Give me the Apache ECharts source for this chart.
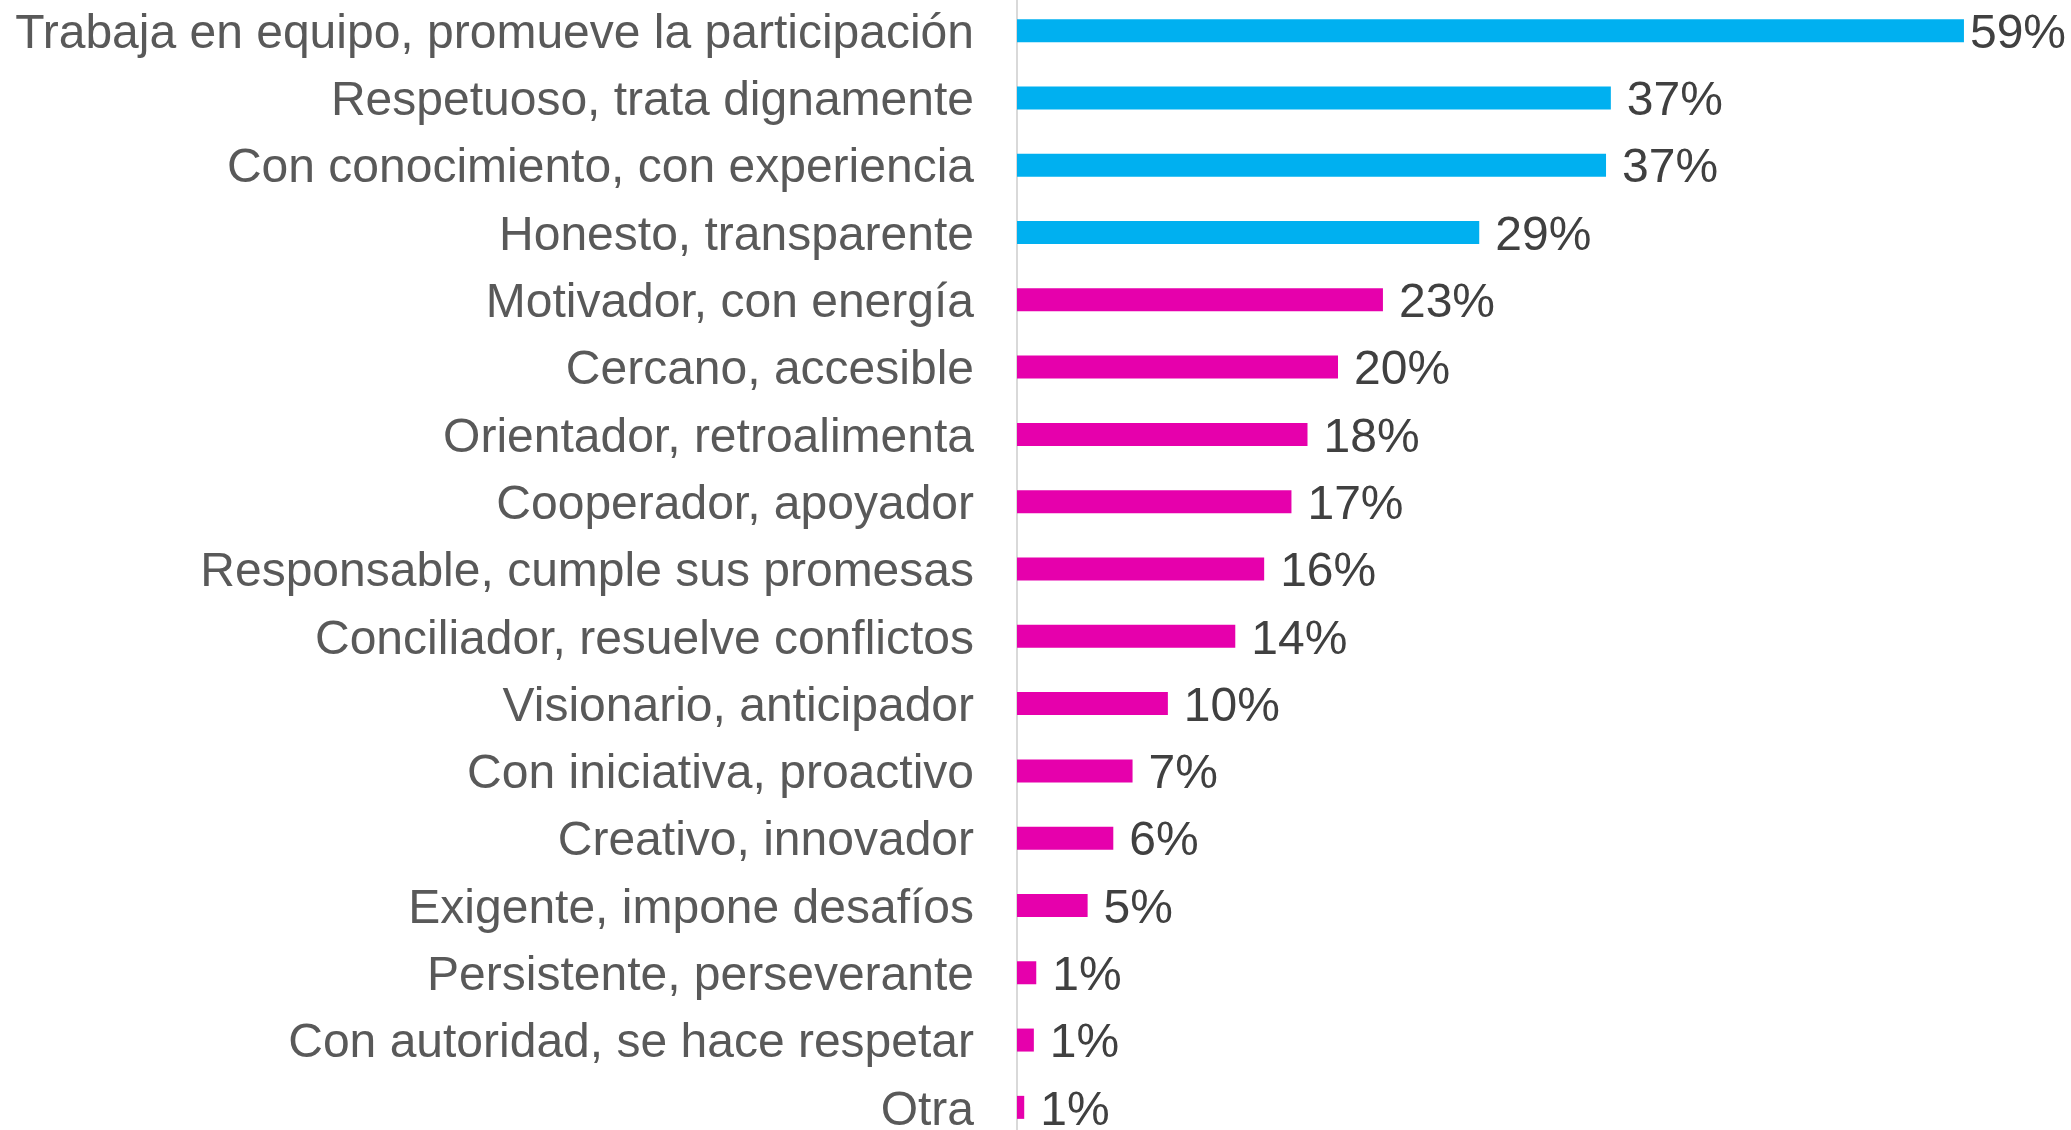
<!DOCTYPE html>
<html>
<head>
<meta charset="utf-8">
<script src="https://cdn.jsdelivr.net/npm/echarts@6/dist/echarts.min.js"></script>
<style>
html,body{margin:0;padding:0;background:#fff;}
#chart{width:2071px;height:1130px;}
</style>
</head>
<body>
<div id="chart"></div>
<script>
const categories = [
  "Trabaja en equipo, promueve la participación",
  "Respetuoso, trata dignamente",
  "Con conocimiento, con experiencia",
  "Honesto, transparente",
  "Motivador, con energía",
  "Cercano, accesible",
  "Orientador, retroalimenta",
  "Cooperador, apoyador",
  "Responsable, cumple sus promesas",
  "Conciliador, resuelve conflictos",
  "Visionario, anticipador",
  "Con iniciativa, proactivo",
  "Creativo, innovador",
  "Exigente, impone desafíos",
  "Persistente, perseverante",
  "Con autoridad, se hace respetar",
  "Otra"
];
const values = [59, 37, 36.7, 28.8, 22.8, 20, 18.1, 17.1, 15.4, 13.6, 9.4, 7.2, 6.0, 4.4, 1.2, 1.05, 0.45];
const valueLabels = ["59%","37%","37%","29%","23%","20%","18%","17%","16%","14%","10%","7%","6%","5%","1%","1%","1%"];
const highlightedCount = 4;

const chart = echarts.init(document.getElementById('chart'), null, {renderer: 'canvas'});
const fontFamily = '"Liberation Sans", Arial, sans-serif';
chart.setOption({
  animation: false,
  backgroundColor: '#ffffff',
  grid: {left: 1017, right: 91, top: -3, bottom: -11, containLabel: false, outerBoundsMode: 'none'},
  xAxis: {
    type: 'value', min: 0, max: 60,
    show: false
  },
  yAxis: {
    type: 'category',
    inverse: true,
    data: categories,
    axisLine: {show: true, lineStyle: {color: '#D9D9D9', width: 2}},
    axisTick: {show: false},
    splitLine: {show: false},
    axisLabel: {
      fontSize: 48, color: '#595959', fontFamily: fontFamily, margin: 43,
      formatter: v => '{c|' + v + '}',
      rich: {
        c: {fontSize: 48, color: '#595959', fontFamily: fontFamily, padding: [8, 0, 0, 0]}
      }
    }
  },
  series: [{
    type: 'bar',
    barWidth: 23,
    data: values.map((v, i) => i === 0 ? {value: v, label: {distance: 6}} : v),
    itemStyle: {
      color: p => p.dataIndex < highlightedCount ? '#00B0F0' : '#E600AC'
    },
    label: {
      show: true, position: 'right', distance: 16, offset: [0, 4],
      fontSize: 48, color: '#404040', fontFamily: fontFamily,
      formatter: p => valueLabels[p.dataIndex]
    }
  }]
});
</script>
</body>
</html>
